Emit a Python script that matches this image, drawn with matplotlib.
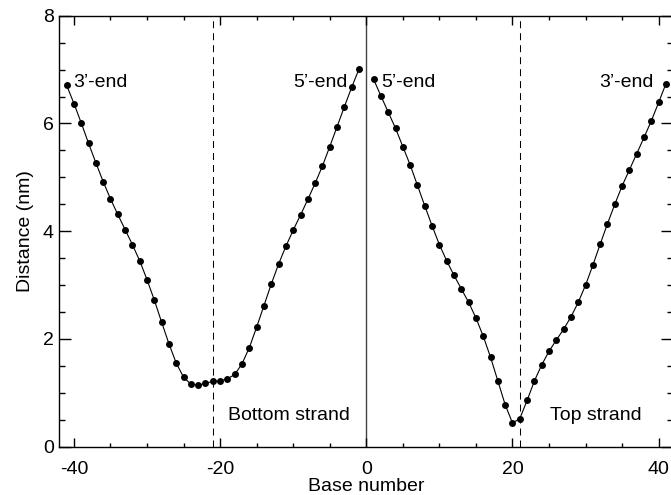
import numpy as np
import matplotlib
matplotlib.use('Agg')
import matplotlib.pyplot as plt
from matplotlib.ticker import MultipleLocator

plt.rcParams['font.family'] = ['Liberation Sans', 'DejaVu Sans']
plt.rcParams['font.size'] = 14
plt.rcParams['axes.unicode_minus'] = False

# base positions and end-to-end distances for both strands
base_bottom = np.arange(-41, 0)
dist_bottom = [6.71, 6.37, 6.01, 5.63, 5.27, 4.92, 4.60, 4.31, 4.03, 3.75,
               3.45, 3.10, 2.72, 2.31, 1.91, 1.55, 1.29, 1.16, 1.14, 1.18,
               1.21, 1.22, 1.26, 1.34, 1.54, 1.84, 2.22, 2.62, 3.02, 3.39,
               3.72, 4.02, 4.30, 4.59, 4.89, 5.21, 5.57, 5.94, 6.31, 6.67,
               7.01]

base_top = np.arange(1, 42)
dist_top = [6.82, 6.51, 6.21, 5.91, 5.57, 5.23, 4.85, 4.47, 4.10, 3.75,
            3.45, 3.18, 2.93, 2.68, 2.39, 2.05, 1.66, 1.22, 0.78, 0.44,
            0.52, 0.86, 1.22, 1.52, 1.77, 1.98, 2.18, 2.41, 2.68, 3.00,
            3.37, 3.76, 4.14, 4.50, 4.84, 5.14, 5.44, 5.74, 6.05, 6.39,
            6.74]

center_bases = [-21, 21]

fig = plt.figure(figsize=(6.71, 4.95), dpi=100)
ax = fig.add_axes([0.0884, 0.0976, 0.9150, 0.8707])

ax.axvline(0, color='#444444', lw=1.0, zorder=1)
for xc in center_bases:
    ax.axvline(xc, color='black', lw=0.75, linestyle=(0, (6.7, 4.8)), zorder=1)

for x, d in [(base_bottom, dist_bottom), (base_top, dist_top)]:
    ax.plot(x, d, color='black', lw=0.8, marker='o', markersize=5.0,
            markeredgewidth=0, zorder=3)

ax.text(-40.1, 6.68, '3\u2019-end', ha='left', va='baseline')
ax.text(-2.6, 6.68, '5\u2019-end', ha='right', va='baseline')
ax.text(2.0, 6.68, '5\u2019-end', ha='left', va='baseline')
ax.text(39.3, 6.68, '3\u2019-end', ha='right', va='baseline')
ax.text(-18.9, 0.495, 'Bottom strand', ha='left', va='baseline')
ax.text(25.1, 0.495, 'Top strand', ha='left', va='baseline')

ax.set_xlim(-42, 42)
ax.set_ylim(0, 8)
ax.xaxis.set_major_locator(MultipleLocator(20))
ax.xaxis.set_minor_locator(MultipleLocator(5))
ax.yaxis.set_major_locator(MultipleLocator(2))
ax.yaxis.set_minor_locator(MultipleLocator(0.5))

ax.tick_params(axis='both', which='both', direction='in',
               top=True, right=True, width=1.0, labelsize=14)
ax.tick_params(axis='x', which='major', length=6.2, pad=10)
ax.tick_params(axis='x', which='minor', length=3.1)
ax.tick_params(axis='y', which='major', length=8.9, pad=4)
ax.tick_params(axis='y', which='minor', length=4.4)
for s in ax.spines.values():
    s.set_linewidth(1.0)

ax.set_xlabel('Base number', labelpad=0)
ax.set_ylabel('Distance (nm)', labelpad=6)

fig.savefig('out.png', dpi=100)
